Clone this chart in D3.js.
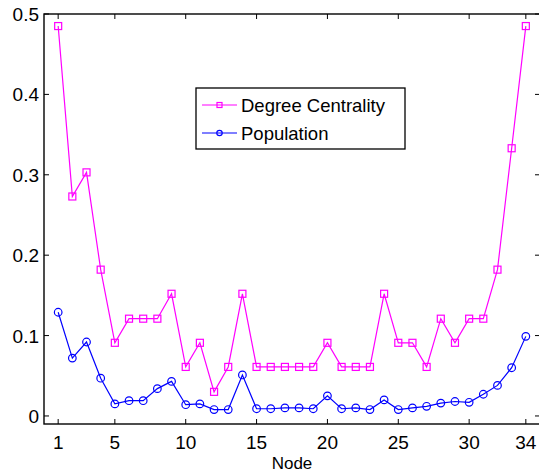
<!DOCTYPE html>
<html>
<head>
<meta charset="utf-8">
<script src="https://cdn.jsdelivr.net/npm/d3@7"></script>
<style>
  body { margin: 0; background: #fff; }
  svg { display: block; font-family: "Liberation Sans", Arial, sans-serif; }
</style>
</head>
<body>
<svg id="chart" width="539" height="472"></svg>
<script>
// node ids 1..34
const nodes = d3.range(1, 35);
const degree = [0.485, 0.273, 0.303, 0.182, 0.091, 0.121, 0.121, 0.121, 0.152, 0.061,
                0.091, 0.030, 0.061, 0.152, 0.061, 0.061, 0.061, 0.061, 0.061, 0.091,
                0.061, 0.061, 0.061, 0.152, 0.091, 0.091, 0.061, 0.121, 0.091, 0.121,
                0.121, 0.182, 0.333, 0.485];
const population = [0.129, 0.072, 0.092, 0.047, 0.015, 0.019, 0.019, 0.034, 0.043, 0.014,
                    0.015, 0.008, 0.008, 0.051, 0.009, 0.009, 0.010, 0.010, 0.009, 0.025,
                    0.009, 0.010, 0.008, 0.020, 0.008, 0.010, 0.012, 0.016, 0.018, 0.017,
                    0.027, 0.038, 0.060, 0.099];
const xTicks = [1, 5, 10, 15, 20, 25, 30, 34];
const yTicks = [0, 0.1, 0.2, 0.3, 0.4, 0.5];

const svg = d3.select("#chart");
const pLeft = 44, pTop = 14, pRight = 540, pBottom = 424;

const x = d3.scaleLinear().domain([0, 35]).range([pLeft, pRight]);
const y = d3.scaleLinear().domain([-0.01, 0.5]).range([pBottom, pTop]);

// ticks on all four sides, pointing inward
const tl = 5;
const axes = svg.append("g").attr("stroke", "#000").attr("stroke-width", 1);
xTicks.forEach(t => {
    axes.append("line").attr("x1", x(t)).attr("x2", x(t)).attr("y1", pBottom).attr("y2", pBottom - tl);
    axes.append("line").attr("x1", x(t)).attr("x2", x(t)).attr("y1", pTop).attr("y2", pTop + tl);
});
yTicks.forEach(t => {
    axes.append("line").attr("x1", pLeft).attr("x2", pLeft + tl).attr("y1", y(t)).attr("y2", y(t));
    axes.append("line").attr("x1", pRight).attr("x2", pRight - tl).attr("y1", y(t)).attr("y2", y(t));
});
axes.append("rect")
    .attr("x", pLeft).attr("y", pTop)
    .attr("width", pRight - pLeft).attr("height", pBottom - pTop)
    .attr("fill", "none").attr("stroke-width", 1.4);

// tick labels
svg.append("g").selectAll("text").data(xTicks).enter().append("text")
    .attr("x", d => x(d)).attr("y", 449)
    .attr("text-anchor", "middle").attr("font-size", 19)
    .text(d => d);
svg.append("g").selectAll("text").data(yTicks).enter().append("text")
    .attr("x", 39).attr("y", d => y(d) + 7)
    .attr("text-anchor", "end").attr("font-size", 19)
    .text(d => d === 0 ? "0" : d.toFixed(1));
svg.append("text").attr("x", x(17.5)).attr("y", 469)
    .attr("text-anchor", "middle").attr("font-size", 17).text("Node");

const line = d3.line().x((d, i) => x(nodes[i])).y(d => y(d));

// degree centrality
svg.append("path").datum(degree).attr("d", line)
    .attr("fill", "none").attr("stroke", "#ff00ff").attr("stroke-width", 1.2);
svg.append("g").selectAll("rect").data(degree).enter().append("rect")
    .attr("x", (d, i) => x(nodes[i]) - 3.5).attr("y", d => y(d) - 3.5)
    .attr("width", 7).attr("height", 7)
    .attr("fill", "none").attr("stroke", "#ff00ff").attr("stroke-width", 1.2);

// population
svg.append("path").datum(population).attr("d", line)
    .attr("fill", "none").attr("stroke", "#0000ff").attr("stroke-width", 1.2);
svg.append("g").selectAll("circle").data(population).enter().append("circle")
    .attr("cx", (d, i) => x(nodes[i])).attr("cy", d => y(d)).attr("r", 3.8)
    .attr("fill", "none").attr("stroke", "#0000ff").attr("stroke-width", 1.2);

// legend
const lg = svg.append("g");
lg.append("rect").attr("x", 196).attr("y", 88).attr("width", 209).attr("height", 61)
    .attr("fill", "#fff").attr("stroke", "#000").attr("stroke-width", 1.3);
const items = [
    {name: "Degree Centrality", color: "#ff00ff", shape: "square", cy: 105},
    {name: "Population", color: "#0000ff", shape: "circle", cy: 133}
];
items.forEach(it => {
    lg.append("line").attr("x1", 202).attr("x2", 237).attr("y1", it.cy).attr("y2", it.cy)
        .attr("stroke", it.color).attr("stroke-width", 1.2);
    if (it.shape == "square") {
        lg.append("rect").attr("x", 219.5 - 2.5).attr("y", it.cy - 2.5).attr("width", 5).attr("height", 5)
            .attr("fill", "none").attr("stroke", it.color).attr("stroke-width", 1.2);
    } else {
        lg.append("circle").attr("cx", 219.5).attr("cy", it.cy).attr("r", 2.7)
            .attr("fill", "none").attr("stroke", it.color).attr("stroke-width", 1.2);
    }
    lg.append("text").attr("x", 241).attr("y", it.cy + 6.5).attr("font-size", 18.5).text(it.name);
});
</script>
</body>
</html>
